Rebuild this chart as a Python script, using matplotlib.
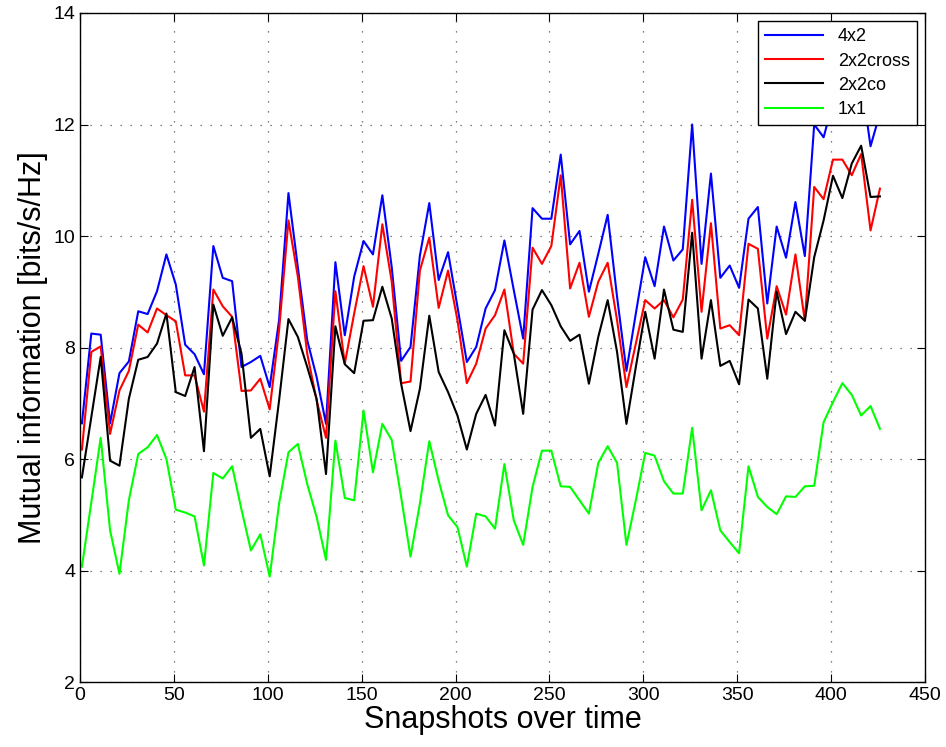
import numpy as np
import matplotlib.pyplot as plt

plt.rcParams['font.family'] = ['Liberation Sans', 'DejaVu Sans']

# Snapshot index (every 5th snapshot)
snapshots = np.arange(1, 427, 5)

mi_4x2 = [6.64, 8.25, 8.23, 6.64, 7.54, 7.75, 8.65, 8.60, 9.01, 9.67,
          9.13, 8.05, 7.88, 7.52, 9.82, 9.25, 9.19, 7.65, 7.74, 7.85,
          7.29, 8.49, 10.77, 9.44, 8.13, 7.47, 6.63, 9.53, 8.22, 9.27,
          9.91, 9.67, 10.73, 9.44, 7.76, 8.01, 9.65, 10.59, 9.21, 9.71,
          8.73, 7.74, 8.01, 8.70, 9.03, 9.92, 9.03, 8.16, 10.50, 10.31,
          10.31, 11.46, 9.85, 10.09, 9.00, 9.68, 10.38, 8.91, 7.58, 8.61,
          9.62, 9.10, 10.17, 9.56, 9.76, 12.00, 9.50, 11.12, 9.25, 9.47,
          9.07, 10.31, 10.52, 8.79, 10.17, 9.61, 10.61, 9.64, 12.00, 11.77,
          12.40, 12.60, 12.30, 12.80, 11.61, 12.20]

mi_2x2cross = [6.17, 7.92, 8.02, 6.45, 7.23, 7.58, 8.41, 8.27, 8.70, 8.58,
               8.47, 7.50, 7.50, 6.85, 9.04, 8.74, 8.55, 7.22, 7.23, 7.44,
               6.89, 8.31, 10.28, 9.27, 7.89, 7.05, 6.38, 9.01, 7.71, 8.61,
               9.46, 8.73, 10.21, 9.18, 7.36, 7.39, 9.38, 9.97, 8.71, 9.38,
               8.49, 7.36, 7.71, 8.34, 8.58, 9.04, 7.89, 7.71, 9.79, 9.50,
               9.82, 11.09, 9.06, 9.52, 8.55, 9.18, 9.52, 8.49, 7.29, 8.07,
               8.85, 8.70, 8.85, 8.54, 8.86, 10.65, 8.64, 10.23, 8.34, 8.40,
               8.22, 9.86, 9.77, 8.16, 9.10, 8.59, 9.67, 8.48, 10.88, 10.66,
               11.37, 11.37, 11.09, 11.47, 10.10, 10.85]

mi_2x2co = [5.67, 6.75, 7.83, 5.97, 5.88, 7.08, 7.78, 7.83, 8.07, 8.61,
            7.20, 7.13, 7.65, 6.14, 8.77, 8.21, 8.54, 7.89, 6.38, 6.54,
            5.69, 7.05, 8.51, 8.19, 7.65, 7.08, 5.73, 8.38, 7.70, 7.54,
            8.48, 8.49, 9.09, 8.52, 7.35, 6.50, 7.26, 8.57, 7.56, 7.20,
            6.78, 6.17, 6.81, 7.15, 6.60, 8.31, 7.89, 6.81, 8.68, 9.03,
            8.76, 8.38, 8.12, 8.23, 7.35, 8.19, 8.85, 7.92, 6.63, 7.65,
            8.64, 7.80, 9.04, 8.32, 8.28, 10.06, 7.80, 8.85, 7.67, 7.76,
            7.34, 8.86, 8.70, 7.44, 9.00, 8.24, 8.64, 8.48, 9.62, 10.28,
            11.08, 10.68, 11.30, 11.62, 10.70, 10.71]

mi_1x1 = [4.07, 5.22, 6.38, 4.72, 3.94, 5.26, 6.09, 6.21, 6.43, 6.00,
          5.09, 5.04, 4.97, 4.09, 5.75, 5.65, 5.87, 5.09, 4.36, 4.65,
          3.89, 5.20, 6.12, 6.27, 5.55, 4.96, 4.19, 6.33, 5.30, 5.26,
          6.87, 5.76, 6.63, 6.34, 5.32, 4.25, 5.20, 6.32, 5.61, 4.99,
          4.78, 4.07, 5.02, 4.97, 4.75, 5.91, 4.90, 4.46, 5.50, 6.15,
          6.15, 5.51, 5.50, 5.26, 5.02, 5.93, 6.23, 5.93, 4.46, 5.26,
          6.11, 6.06, 5.60, 5.38, 5.38, 6.56, 5.08, 5.44, 4.72, 4.51,
          4.31, 5.87, 5.32, 5.14, 5.01, 5.33, 5.32, 5.51, 5.52, 6.66,
          7.02, 7.36, 7.15, 6.78, 6.95, 6.54]

fig = plt.figure(figsize=(9.46, 7.47), dpi=100)
ax = fig.add_axes([0.0846, 0.087, 0.8932, 0.8956])

ax.plot(snapshots, mi_4x2, color='#0000ff', lw=1.5, label='4x2')
ax.plot(snapshots, mi_2x2cross, color='#ff0000', lw=1.5, label='2x2cross')
ax.plot(snapshots, mi_2x2co, color='black', lw=1.5, label='2x2co')
ax.plot(snapshots, mi_1x1, color='#00ff00', lw=1.5, label='1x1')

ax.set_xlim(0, 450)
ax.set_ylim(2, 14)
ax.set_xticks(np.arange(0, 451, 50))
ax.set_yticks(np.arange(2, 15, 2))
ax.grid(True, linestyle=(0, (1, 7)), color='#555555', linewidth=0.9)
ax.tick_params(direction='in', top=True, right=True, length=6, labelsize=14)
for s in ax.spines.values():
    s.set_linewidth(1.0)

ax.set_xlabel('Snapshots over time', fontsize=22, labelpad=1)
ax.set_ylabel('Mutual information [bits/s/Hz]', fontsize=22, labelpad=4)

leg = ax.legend(loc='upper right', fontsize=13, fancybox=False, framealpha=1,
                edgecolor='black', borderaxespad=0.45, handlelength=3.2,
                labelspacing=0.4)
leg.get_frame().set_linewidth(1.0)

fig.savefig('out.png', dpi=100)
